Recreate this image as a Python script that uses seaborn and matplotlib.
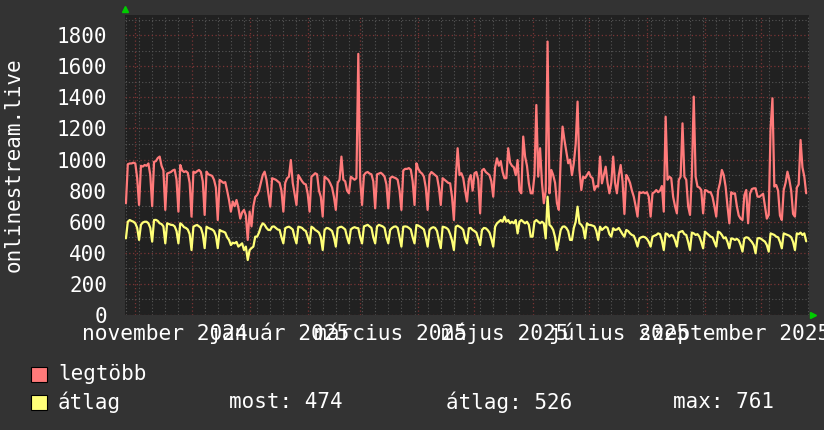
"""
onlinestream.live - one year of viewer counts (rrdtool-like dark chart)
"""

import pandas as pd
import matplotlib
matplotlib.use("Agg")
import matplotlib.pyplot as plt
import matplotlib.dates as mdates
from matplotlib.patches import Rectangle
from matplotlib.ticker import MultipleLocator
import seaborn as sns

# =============================================
# Data (daily values, one week per line)
# =============================================

start_date = "2024-10-27"

legtobb = [
    719, 970, 975, 975, 980, 975, 880,
    708, 960, 955, 965, 960, 975, 900,
    700, 985, 990, 1010, 1019, 960, 930,
    676, 910, 915, 920, 930, 935, 870,
    665, 965, 930, 920, 925, 915, 850,
    633, 922, 915, 925, 933, 920, 860,
    644, 922, 905, 900, 895, 870, 820,
    611, 869, 860, 850, 855, 800, 740,
    665, 730, 700, 740, 690, 620, 660,
    676, 640, 483, 665, 570, 700, 760,
    772, 800, 850, 900, 922, 870, 780,
    697, 880, 875, 870, 860, 850, 800,
    665, 850, 880, 890, 997, 850, 780,
    708, 900, 880, 860, 845, 840, 780,
    665, 890, 900, 912, 905, 800, 760,
    633, 890, 880, 870, 847, 820, 760,
    676, 850, 870, 1019, 870, 860, 800,
    783, 890, 880, 870, 880, 1680, 870,
    708, 900, 915, 920, 910, 905, 860,
    686, 905, 910, 915, 905, 890, 840,
    686, 880, 890, 885, 880, 870, 800,
    676, 930, 940, 940, 945, 935, 860,
    708, 976, 940, 920, 910, 890, 820,
    676, 900, 920, 910, 900, 890, 820,
    708, 880, 870, 860, 850, 847, 760,
    611, 880, 1073, 900, 912, 880, 800,
    730, 870, 900, 800, 912, 920, 870,
    654, 930, 940, 920, 910, 900, 860,
    761, 950, 1008, 960, 990, 920, 880,
    880, 1073, 980, 960, 950, 900, 997,
    800, 783, 1148, 1019, 960, 847, 783,
    783, 900, 1351, 890, 1073, 850, 719,
    800, 1759, 783, 933, 900, 850, 719,
    676, 1000, 1212, 1126, 1050, 976, 1000,
    900, 976, 1100, 1373, 933, 804, 890,
    880, 900, 920, 890, 880, 804, 830,
    826, 1019, 847, 900, 954, 850, 783,
    850, 1019, 850, 783, 900, 965, 860,
    650, 901, 880, 850, 800, 761, 700,
    633, 790, 785, 790, 783, 790, 760,
    633, 783, 790, 804, 790, 800, 830,
    665, 1276, 870, 890, 880, 760, 700,
    654, 869, 890, 1233, 890, 870, 700,
    644, 900, 1405, 890, 826, 820, 804,
    654, 804, 800, 790, 790, 760, 700,
    633, 800, 850, 933, 900, 826, 700,
    590, 790, 780, 783, 700, 640, 620,
    611, 770, 804, 590, 780, 810, 815,
    815, 762, 760, 770, 780, 700, 620,
    644, 1200, 1394, 826, 836, 800, 640,
    611, 804, 850, 922, 870, 800, 650,
    633, 820, 840, 1126, 950, 890, 783,
]

atlag = [
    493, 600, 611, 605, 600, 590, 560,
    483, 580, 595, 600, 600, 590, 560,
    472, 611, 612, 605, 590, 585, 570,
    461, 590, 585, 580, 579, 570, 540,
    461, 590, 580, 565, 560, 550, 520,
    418, 568, 575, 579, 570, 560, 520,
    430, 568, 560, 555, 550, 540, 510,
    430, 547, 540, 536, 530, 500, 483,
    450, 465, 461, 470, 440, 450, 461,
    418, 440, 354, 418, 430, 440, 504,
    504, 530, 568, 590, 580, 560, 547,
    547, 568, 570, 560, 550, 547, 500,
    461, 558, 565, 568, 560, 550, 500,
    461, 568, 565, 560, 547, 540, 500,
    461, 568, 560, 547, 540, 530, 500,
    418, 547, 560, 558, 550, 540, 500,
    440, 558, 565, 568, 560, 550, 500,
    461, 550, 560, 565, 560, 558, 500,
    461, 570, 575, 580, 570, 560, 500,
    461, 570, 580, 575, 570, 560, 500,
    461, 547, 560, 568, 570, 560, 500,
    440, 568, 570, 568, 560, 550, 500,
    461, 579, 575, 568, 560, 550, 500,
    440, 547, 560, 565, 560, 540, 480,
    430, 568, 565, 560, 550, 520, 480,
    418, 568, 575, 568, 560, 547, 490,
    461, 558, 560, 547, 540, 530, 490,
    450, 547, 560, 558, 547, 530, 490,
    440, 568, 590, 600, 611, 600, 633,
    600, 611, 590, 600, 590, 611, 525,
    600, 611, 600, 590, 600, 580, 504,
    504, 600, 611, 600, 590, 600, 590,
    493, 761, 580, 568, 547, 500, 418,
    480, 547, 568, 570, 560, 540, 483,
    483, 560, 600, 697, 590, 580, 560,
    493, 590, 580, 579, 575, 570, 540,
    483, 568, 547, 558, 568, 560, 520,
    504, 558, 547, 550, 560, 540, 520,
    504, 547, 540, 525, 515, 510, 480,
    440, 493, 500, 504, 500, 490, 470,
    440, 504, 510, 515, 525, 520, 480,
    418, 525, 520, 504, 515, 510, 480,
    440, 530, 536, 540, 520, 515, 470,
    418, 530, 525, 515, 520, 504, 470,
    429, 536, 525, 515, 504, 500, 470,
    440, 536, 530, 515, 493, 500, 470,
    429, 493, 490, 483, 490, 480, 450,
    408, 493, 500, 497, 483, 470, 450,
    397, 493, 495, 490, 480, 472, 450,
    408, 525, 520, 515, 504, 500, 470,
    429, 525, 520, 515, 510, 500, 470,
    418, 525, 520, 530, 515, 525, 474,
]

series_names = ["legtöbb", "átlag"]
series_colors = ["#ff7a7a", "#ffff78"]

month_labels = ["november 2024", "január 2025", "március 2025",
                "május 2025", "július 2025", "szeptember 2025"]
label_months = ["2024-11-01", "2025-01-01", "2025-03-01",
                "2025-05-01", "2025-07-01", "2025-09-01"]

stat_labels = ["most", "átlag", "max"]
stat_values = [474, 526, 761]

y_label = "onlinestream.live"

# =============================================
# Styling
# =============================================

BG = "#333333"
PLOT_BG = "#212121"
MINOR_GRID = "#555555"
MAJOR_GRID = "#7a3434"
FS = 15

sns.set_style("dark", {"axes.facecolor": PLOT_BG, "figure.facecolor": BG})
plt.rcParams["font.family"] = ["DejaVu Sans Mono", "DejaVu Sans"]

# =============================================
# Build the frame
# =============================================

days = pd.date_range(start_date, periods=len(legtobb), freq="D")
df = pd.concat([
    pd.DataFrame({"nap": days, "ertek": legtobb, "sor": series_names[0]}),
    pd.DataFrame({"nap": days, "ertek": atlag, "sor": series_names[1]}),
], ignore_index=True)

# =============================================
# Plot
# =============================================

W, H = 824, 430
fig = plt.figure(figsize=(W / 100, H / 100), dpi=100, facecolor=BG)
ax = fig.add_axes([125 / W, (H - 315) / H, 684 / W, 300 / H])
ax.set_facecolor(PLOT_BG)

sns.lineplot(data=df, x="nap", y="ertek", hue="sor", hue_order=series_names,
             palette=series_colors, linewidth=1.6, legend=False, ax=ax)

x0 = pd.Timestamp(start_date) - pd.Timedelta(hours=12)
ax.set_xlim(x0, x0 + pd.Timedelta(days=365))
ax.set_ylim(0, 1930)

# grid: months / weeks on x, 200 / 100 on y
ax.xaxis.set_major_locator(mdates.MonthLocator())
ax.xaxis.set_minor_locator(mdates.WeekdayLocator(byweekday=mdates.SU))
ax.xaxis.set_major_formatter(plt.NullFormatter())
ax.yaxis.set_major_locator(MultipleLocator(200))
ax.yaxis.set_minor_locator(MultipleLocator(100))

ax.grid(which="minor", color=MINOR_GRID, linestyle=(0, (1, 2)), linewidth=0.8)
ax.grid(which="major", color=MAJOR_GRID, linestyle=(0, (1, 2)), linewidth=0.9)
ax.set_axisbelow(True)

ax.tick_params(axis="y", which="both", length=2, pad=11, colors=MINOR_GRID,
               labelcolor="white", labelsize=FS)
ax.tick_params(axis="x", which="minor", length=2, color=MINOR_GRID)
ax.tick_params(axis="x", which="major", length=3, color=MAJOR_GRID)
ax.set_xlabel("")
ax.set_ylabel("")
for s in ax.spines.values():
    s.set_visible(False)

# month labels, centred a bit past mid-month like rrdtool does (common baseline)
for lab, m in zip(month_labels, label_months):
    pos = pd.Timestamp(m) + pd.Timedelta(days=16)
    ax.text(pos, -25 / 300, lab, transform=ax.get_xaxis_transform(),
            ha="center", va="baseline", color="white", fontsize=15.3,
            clip_on=False)

# little green arrows at the axis ends
ax.plot([0], [1.02], marker="^", color="#00cc00", markersize=5,
        transform=ax.transAxes, clip_on=False)
ax.plot([1.006], [0.0], marker=">", color="#00cc00", markersize=5,
        transform=ax.transAxes, clip_on=False)

fig.text(14 / W, 1 - 165 / H, y_label, rotation=90, ha="center", va="center",
         color="white", fontsize=FS)

# legend rows
rows = [374, 402]
for yc, name, col in zip(rows, series_names, series_colors):
    fig.patches.append(Rectangle((31 / W, 1 - (yc + 8) / H), 16 / W, 15 / H,
                                 transform=fig.transFigure, facecolor=col,
                                 edgecolor="black", linewidth=0.8))
    fig.text(58 / W, 1 - yc / H, name, ha="left", va="center",
             color="white", fontsize=FS)

for xs, lab, val in zip([229, 446, 673], stat_labels, stat_values):
    fig.text(xs / W, 1 - rows[1] / H, f"{lab}: {val}", ha="left", va="center",
             color="white", fontsize=FS)

fig.savefig("out.png", dpi=100, facecolor=BG)
